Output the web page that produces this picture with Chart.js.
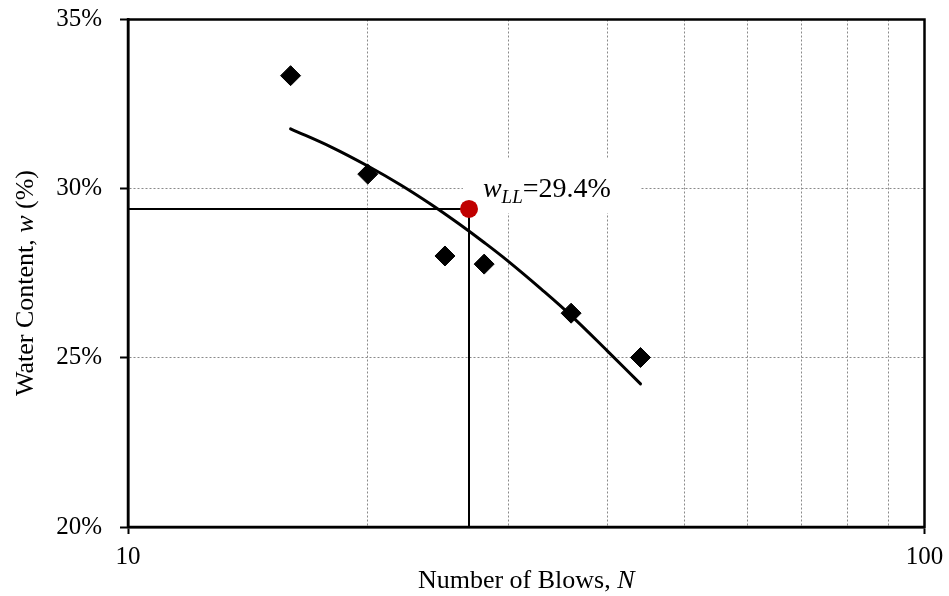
<!DOCTYPE html>
<html>
<head>
<meta charset="utf-8">
<title>Liquid Limit – Flow Curve</title>
<script src="https://cdn.jsdelivr.net/npm/chart.js@4/dist/chart.umd.min.js"></script>
<style>
  html, body { margin: 0; padding: 0; background: #fff; }
  #wrap { width: 949px; height: 596px; position: relative; }
</style>
</head>
<body>
<div id="wrap"><canvas id="chart" width="949" height="596"></canvas></div>
<script>
// Casagrande cup test results
const blows = [16, 20, 25, 28, 36, 44];
const waterContent = [33.34, 30.43, 28.01, 27.77, 26.32, 25.01];

// Flow curve drawn through the measurements
const fitBlows = [16, 18, 20, 22, 24, 26, 28, 30, 33, 36, 40, 44];
const fitWater = [31.77, 31.23, 30.67, 30.11, 29.54, 28.97, 28.41, 27.86, 27.04, 26.25, 25.2, 24.23];

// Liquid limit point
const llBlows = 26.8;
const llWater = 29.4;

// Axis ticks
const yTicks = [20, 25, 30, 35];
const xTicks = [10, 20, 30, 40, 50, 60, 70, 80, 90, 100];
const xLabelled = [10, 100];

const SERIF = '"Liberation Serif", "Times New Roman", serif';

const measured = blows.map((n, i) => ({ x: n, y: waterContent[i] }));
const curve = fitBlows.map((n, i) => ({ x: n, y: fitWater[i] }));
const guide = [
  { x: xTicks[0], y: llWater },
  { x: llBlows, y: llWater },
  { x: llBlows, y: yTicks[0] }
];

// White-backed annotation, plot frame and mixed-style axis titles
const decorations = {
  id: 'decorations',
  beforeDatasetsDraw(chart) {
    const { ctx, scales: { x, y } } = chart;
    const tx = x.getPixelForValue(27.9);
    const ty = y.getPixelForValue(29.75);
    ctx.save();
    ctx.font = 'italic 28px ' + SERIF;
    const wW = ctx.measureText('w').width;
    ctx.font = 'italic 19px ' + SERIF;
    const llW = ctx.measureText('LL').width;
    ctx.font = '28px ' + SERIF;
    const restText = '=' + llWater.toFixed(1) + '%';
    const restW = ctx.measureText(restText).width;
    const total = wW + llW + restW;
    ctx.fillStyle = '#fff';
    ctx.fillRect(tx - 20, ty - 39, total + 50, 55);
    ctx.fillStyle = '#000';
    ctx.textBaseline = 'alphabetic';
    ctx.textAlign = 'left';
    ctx.font = 'italic 28px ' + SERIF;
    ctx.fillText('w', tx, ty);
    ctx.font = 'italic 19px ' + SERIF;
    ctx.fillText('LL', tx + wW, ty + 6);
    ctx.font = '28px ' + SERIF;
    ctx.fillText(restText, tx + wW + llW, ty);
    ctx.restore();
  },
  afterDraw(chart) {
    const { ctx, chartArea: a } = chart;
    ctx.save();
    ctx.strokeStyle = '#000';
    ctx.lineWidth = 2.5;
    ctx.strokeRect(a.left, a.top, a.right - a.left, a.bottom - a.top);

    ctx.fillStyle = '#000';
    ctx.textBaseline = 'alphabetic';
    ctx.textAlign = 'left';

    // x title
    const xParts = [['Number of Blows, ', ''], ['N', 'italic ']];
    let widths = xParts.map(([t, s]) => { ctx.font = s + '26px ' + SERIF; return ctx.measureText(t).width; });
    let total = widths.reduce((p, c) => p + c, 0);
    let cx = (a.left + a.right) / 2 - total / 2;
    xParts.forEach(([t, s], i) => {
      ctx.font = s + '26px ' + SERIF;
      ctx.fillText(t, cx, 588);
      cx += widths[i];
    });

    // y title (rotated)
    const yParts = [['Water Content, ', ''], ['w', 'italic '], [' (%)', '']];
    widths = yParts.map(([t, s]) => { ctx.font = s + '26px ' + SERIF; return ctx.measureText(t).width; });
    total = widths.reduce((p, c) => p + c, 0);
    ctx.translate(33, 283);
    ctx.rotate(-Math.PI / 2);
    let px = -total / 2;
    yParts.forEach(([t, s], i) => {
      ctx.font = s + '26px ' + SERIF;
      ctx.fillText(t, px, 0);
      px += widths[i];
    });
    ctx.restore();
  }
};

new Chart(document.getElementById('chart'), {
  type: 'scatter',
  data: {
    datasets: [
      {
        label: 'Liquid limit',
        data: [{ x: llBlows, y: llWater }],
        pointStyle: 'circle',
        pointRadius: 9,
        pointBackgroundColor: '#c00000',
        pointBorderColor: '#c00000',
        pointBorderWidth: 0
      },
      {
        label: 'Measured',
        data: measured,
        pointStyle: 'rectRot',
        pointRadius: 10,
        pointBackgroundColor: '#000',
        pointBorderColor: '#000',
        pointBorderWidth: 1
      },
      {
        label: 'Flow curve',
        data: curve,
        showLine: true,
        borderColor: '#000',
        borderWidth: 3,
        borderCapStyle: 'round',
        tension: 0.4,
        pointRadius: 0
      },
      {
        label: 'Guide',
        data: guide,
        showLine: true,
        borderColor: '#000',
        borderWidth: 2,
        tension: 0,
        pointRadius: 0
      }
    ]
  },
  options: {
    responsive: false,
    animation: false,
    events: [],
    layout: { padding: { left: 0, top: 19.5, right: 24.5, bottom: 0 } },
    plugins: { legend: { display: false }, tooltip: { enabled: false } },
    scales: {
      x: {
        type: 'logarithmic',
        min: 10,
        max: 100,
        afterBuildTicks(scale) { scale.ticks = xTicks.map(v => ({ value: v })); },
        afterFit(scale) {
          scale.height = 69;
          scale.paddingLeft = 0;
          scale.paddingRight = 0;
        },
        border: { display: true, color: '#000', width: 2.5, dash: [2, 2] },
        grid: {
          color: '#8a8a8a',
          lineWidth: 1,
          drawTicks: true,
          tickLength: 7,
          tickWidth: 2,
          tickBorderDash: [],
          tickColor: (c) => (c.tick && xLabelled.includes(c.tick.value)) ? '#000' : 'rgba(0,0,0,0)'
        },
        ticks: {
          autoSkip: false,
          maxRotation: 0,
          padding: 8,
          color: '#000',
          font: { family: SERIF, size: 25 },
          callback: (v) => xLabelled.includes(v) ? String(v) : ''
        }
      },
      y: {
        min: yTicks[0],
        max: yTicks[yTicks.length - 1],
        afterBuildTicks(scale) { scale.ticks = yTicks.map(v => ({ value: v })); },
        afterFit(scale) {
          scale.width = 128;
          scale.paddingTop = 0;
          scale.paddingBottom = 0;
        },
        border: { display: true, color: '#000', width: 2.5, dash: [2, 2] },
        grid: {
          color: '#8a8a8a',
          lineWidth: 1,
          tickLength: 8,
          tickWidth: 2,
          tickBorderDash: [],
          tickColor: '#000'
        },
        ticks: {
          padding: 18,
          color: '#000',
          font: { family: SERIF, size: 25 },
          callback: (v) => v + '%'
        }
      }
    }
  },
  plugins: [decorations]
});
</script>
</body>
</html>
